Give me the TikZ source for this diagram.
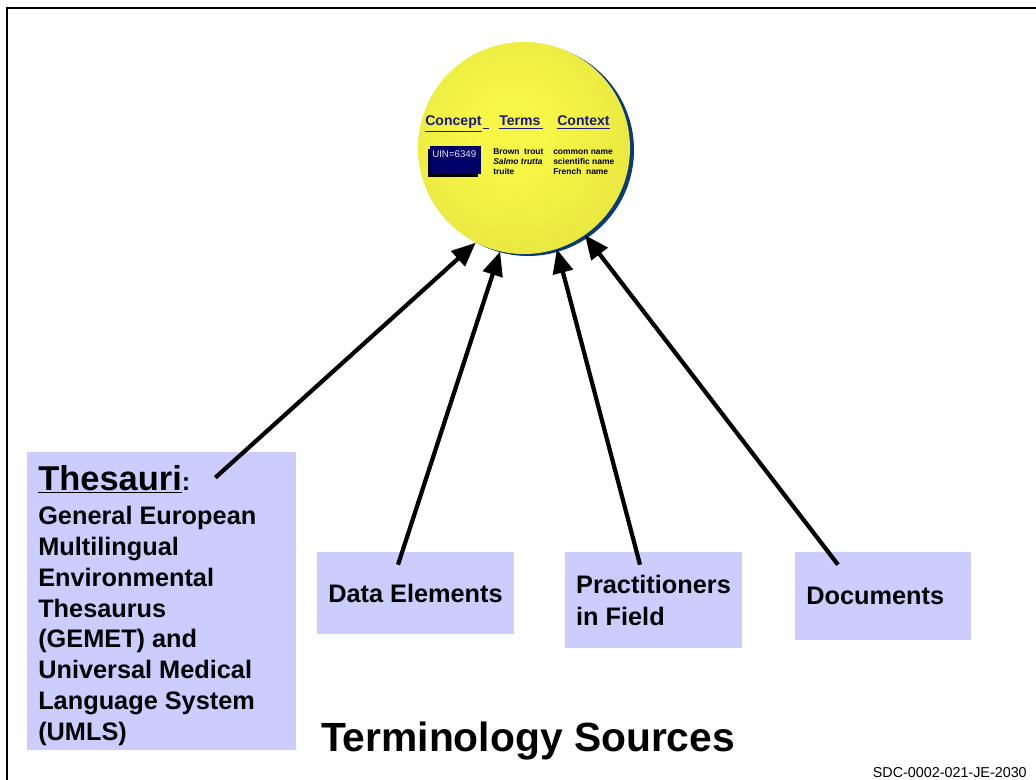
\documentclass[tikz,border=0pt]{standalone}
\usepackage{fontspec}
\setmainfont{Liberation Sans}
\usepackage{tikz}
\usetikzlibrary{arrows.meta,positioning,calc}

\definecolor{boxblue}{HTML}{CCCCFF}
\definecolor{headnavy}{HTML}{1A1A7A}
\definecolor{uinnavy}{HTML}{000066}
\definecolor{rimblue}{HTML}{0A3A78}
\definecolor{ballhi}{HTML}{F7F747}
\definecolor{balllo}{HTML}{DCD93B}
\pgfdeclareradialshading{yellowball}{\pgfpoint{-3bp}{4bp}}{color(0bp)=(ballhi); color(8bp)=(ballhi); color(50bp)=(balllo); color(100bp)=(balllo)}

\begin{document}
\begin{tikzpicture}[x=0.025cm,y=-0.025cm,
  srcbox/.style={fill=boxblue,inner sep=0pt,font=\fontsize{18}{22.7}\selectfont\bfseries},
  colhead/.style={anchor=base west,inner sep=0pt,text=headnavy,font=\fontsize{10}{12}\selectfont\bfseries},
  tinytext/.style={anchor=north west,inner sep=0pt,align=left,font=\fontsize{6}{7.1}\selectfont\bfseries},
  bigarrow/.style={line width=3pt,-{Triangle[length=6mm,width=5mm]}}]
\useasboundingbox (0,0) rectangle (1036,780);
\draw[line width=1.4pt] (7,780) -- (7,8) -- (1036,8);

\fill[rimblue] (528,150) circle (106);
\node[circle,minimum size=5.3cm,inner sep=0pt,shading=yellowball] (sphere) at (524,148) {};

\node[colhead] (concept) at (425,126) {\underline{Concept}\hspace{1.2pt}\underline{\hspace{4pt}}};
\node[colhead] (terms) at (499,126) {\underline{Terms\hspace{1.5pt}}};
\node[colhead] (context) at (557,126) {\underline{Context}};

\fill[black] (428,149) rectangle (478,177);
\fill[uinnavy] (430,146) rectangle (481,174);
\node[anchor=base west,inner sep=0pt,text=blue!10,font=\fontsize{6.9}{8}\selectfont] (uin) at (432,158) {UIN=6349};

\node[tinytext] (names) at (493,147) {\strut Brown\ \ trout\\ \textit{Salmo trutta}\\ truite};
\node[tinytext] (kinds) at (553,147) {\strut common name\\ scientific name\\ French\ \ name};

\node[srcbox,minimum width=6.725cm,minimum height=7.45cm] (thes) at (161.5,601) {};
\node[anchor=base west,inner sep=0pt,font=\bfseries] (thestitle) at (38,490)
  {{\fontsize{24.5}{29}\selectfont\underline{Thesauri}}{\fontsize{18}{22}\selectfont:}};
\node[anchor=north west,inner sep=0pt,align=left,font=\fontsize{18}{22}\selectfont\bfseries] (thesbody) at (38,502.3)
  {\strut General European\\ Multilingual\\ Environmental\\ Thesaurus\\ (GEMET) and\\ Universal Medical\\ Language System\\ (UMLS)};

\node[srcbox,minimum width=4.925cm,minimum height=2.05cm] (data) at (415.5,593) {Data Elements};
\node[srcbox,minimum width=4.425cm,minimum height=2.4cm,align=left] (prac) at (653.5,600) {Practitioners\\ in Field};
\node[srcbox,minimum width=4.4cm,minimum height=2.2cm] (docs) at (883,596) {\hspace{-11pt}Documents};

\draw[bigarrow] ($(thes.north east)+(-81,26)$) -- (sphere.243);
\draw[bigarrow] ($(data.north)+(-17.5,13)$) -- (sphere.257);
\draw[bigarrow] ($(prac.north)+(-13.5,13)$) -- (sphere.288);
\draw[bigarrow] ($(docs.north)+(-45,13)$) -- (sphere.305);

\node[inner sep=0pt,font=\fontsize{29}{35}\selectfont\bfseries] (title) at (528,741) {Terminology Sources};
\node[anchor=base east,inner sep=0pt,font=\fontsize{10.2}{12}\selectfont] (code) at (1027,777) {SDC-0002-021-JE-2030};
\end{tikzpicture}
\end{document}
